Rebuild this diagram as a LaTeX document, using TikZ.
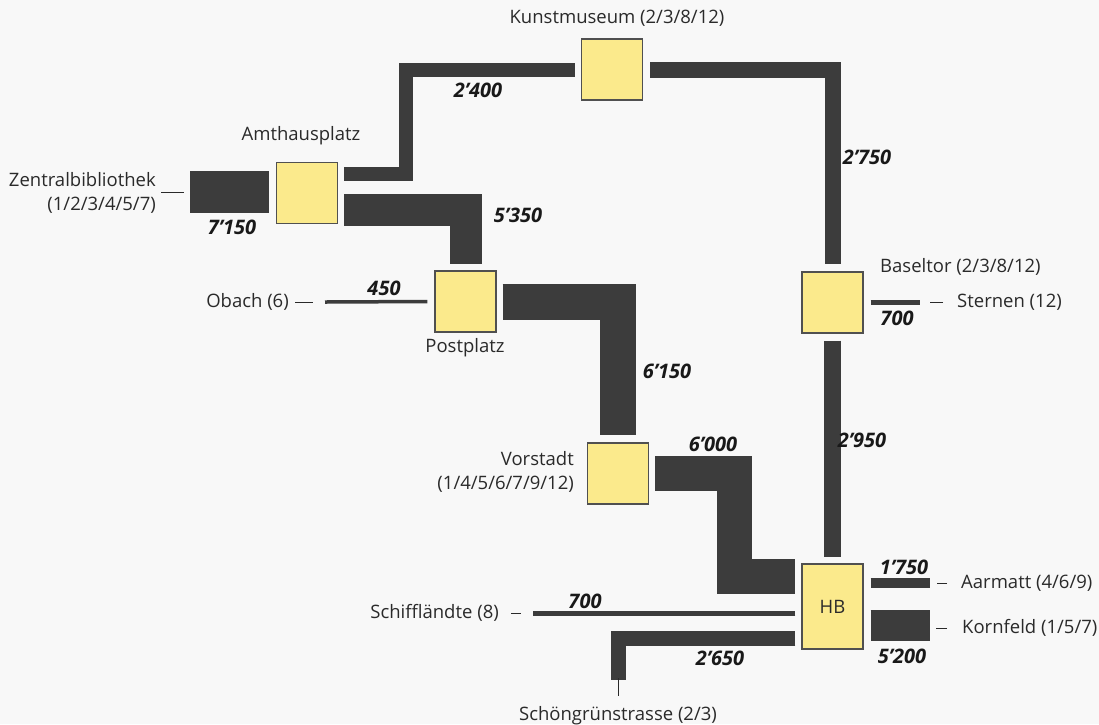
\documentclass[tikz,border=0pt]{standalone}
\usepackage{fontspec}
\setmainfont{Open Sans}
\usetikzlibrary{positioning}
\definecolor{boxfill}{HTML}{FBEA8C}
\definecolor{boxline}{HTML}{505050}
\definecolor{bandgray}{HTML}{3C3C3C}
\definecolor{textgray}{HTML}{2A2A2A}
\definecolor{bggray}{HTML}{F8F8F8}
\tikzset{
	station/.style={rectangle, draw=boxline, fill=boxfill, line width=1.2pt, minimum width=61pt, minimum height=61pt, inner sep=0pt},
	band/.style={draw=bandgray, line width=#1, line join=miter, line cap=butt},
	tick/.style={draw=textgray, line width=0.9pt}
}

\begin{document}
\begin{tikzpicture}[x=1pt, y=-1pt,
		stop/.style={font=\fontsize{18.5}{24}\selectfont, text=textgray, inner sep=0pt},
		num/.style={font=\fontsize{20}{22}\selectfont\bfseries\itshape, text=black!90, inner sep=0pt}
		]
		\fill[bggray] (0,0) rectangle (1099,724);
		\useasboundingbox (0,0) rectangle (1099,724);
		
		% stations
		\node[station] (amt) at (307,193) {};
		\node[station] (kunst) at (612,69.5) {};
		\node[station] (basel) at (832.5,302.5) {};
		\node[station] (post) at (465.5,301.5) {};
		\node[station] (vor) at (618,473.5) {};
		\node[station, minimum height=85pt, font=\fontsize{18.5}{20}\selectfont, text=textgray] (hb) at (832.5,606.5) {HB};
		
		% free ends
		\coordinate (zb) at (190,192);
		\coordinate (ob) at (325,302);
		\coordinate (st) at (920,302.5);
		\coordinate (sf) at (533,613.5);
		\coordinate (sg) at (618.5,680);
		\coordinate (aa) at (930,583);
		\coordinate (kf) at (930,625.5);
		
		% flows
		\draw[band=42pt] (zb) -- ([xshift=-7pt,yshift=1pt]amt.west);
		\draw[band=14pt] ([xshift=6pt,yshift=19pt]amt.east) -- ++(61.5,0) |- ([xshift=-6pt]kunst.west);
		\draw[band=16pt] ([xshift=7pt]kunst.east) -| ([yshift=7pt]basel.north);
		\draw[band=17pt] ([yshift=-7pt]basel.south) -- ([yshift=6pt]hb.north);
		\draw[band=32pt] ([xshift=6pt,yshift=-17pt]amt.east) -| ([yshift=6pt]post.north);
		\draw[band=36pt] ([xshift=6pt]post.east) -| ([yshift=7pt]vor.north);
		\draw[band=35pt] ([xshift=6pt]vor.east) -- ++(79,0) |- ([xshift=-6pt,yshift=30pt]hb.west);
		\draw[band=3.5pt] (ob) -- ([xshift=-7pt]post.west);
		\draw[band=4.5pt] ([xshift=7pt]basel.east) -- (st);
		\draw[band=4.5pt] ([xshift=-6pt,yshift=-7pt]hb.west) -- (sf);
		\draw[band=15pt] ([xshift=-6pt,yshift=-32pt]hb.west) -| (sg);
		\draw[band=10pt] ([xshift=7pt,yshift=23.5pt]hb.east) -- (aa);
		\draw[band=31pt] ([xshift=7pt,yshift=-19pt]hb.east) -- (kf);
		
		% stop names
		\node[stop, anchor=east, align=right] (zbl) at (156,192.5) {Zentralbibliothek\\(1/2/3/4/5/7)};
		\node[stop] (amtl) at (301,136) {Amthausplatz};
		\node[stop] (kunstl) at (617,18) {Kunstmuseum (2/3/8/12)};
		\node[stop, anchor=west] (basell) at (880,267) {Baseltor (2/3/8/12)};
		\node[stop] (postl) at (465,348) {Postplatz};
		\node[stop, anchor=east, align=right] (vorl) at (574,472) {Vorstadt\\(1/4/5/6/7/9/12)};
		\node[stop, anchor=east] (obl) at (289,302) {Obach (6)};
		\node[stop, anchor=east] (sfl) at (499,613) {Schiffländte (8)};
		\node[stop] (sgl) at (618,716) {Schöngrünstrasse (2/3)};
		\node[stop, anchor=west] (stl) at (957,302) {Sternen (12)};
		\node[stop, anchor=west] (aal) at (961,583) {Aarmatt (4/6/9)};
		\node[stop, anchor=west] (kfl) at (962,628) {Kornfeld (1/5/7)};
		
		\draw[tick] ([xshift=5pt]zbl.east) -- ++(23,0);
		\draw[tick] ([xshift=6pt]obl.east) -- ++(18,0);
		\draw[tick] ([xshift=12pt]sfl.east) -- ++(10,0);
		\draw[tick] ([yshift=11pt]sgl.north) -- ++(0,-18);
		\draw[tick] ([xshift=-14pt]stl.west) -- ++(-13,0);
		\draw[tick] ([xshift=-14pt]aal.west) -- ++(-10,0);
		\draw[tick] ([xshift=-15pt]kfl.west) -- ++(-11,0);
		
		% volumes
		\node[num] at (232,227) {7'150};
		\node[num] at (478,90) {2'400};
		\node[num] at (867,157) {2'750};
		\node[num] at (518,215) {5'350};
		\node[num] at (384,288) {450};
		\node[num] at (897,318) {700};
		\node[num] at (667,371) {6'150};
		\node[num] at (713,444) {6'000};
		\node[num] at (862,440) {2'950};
		\node[num] at (904,567) {1'750};
		\node[num] at (585,601) {700};
		\node[num] at (720,658) {2'650};
		\node[num] at (902,656) {5'200};
	\end{tikzpicture}
\end{document}
